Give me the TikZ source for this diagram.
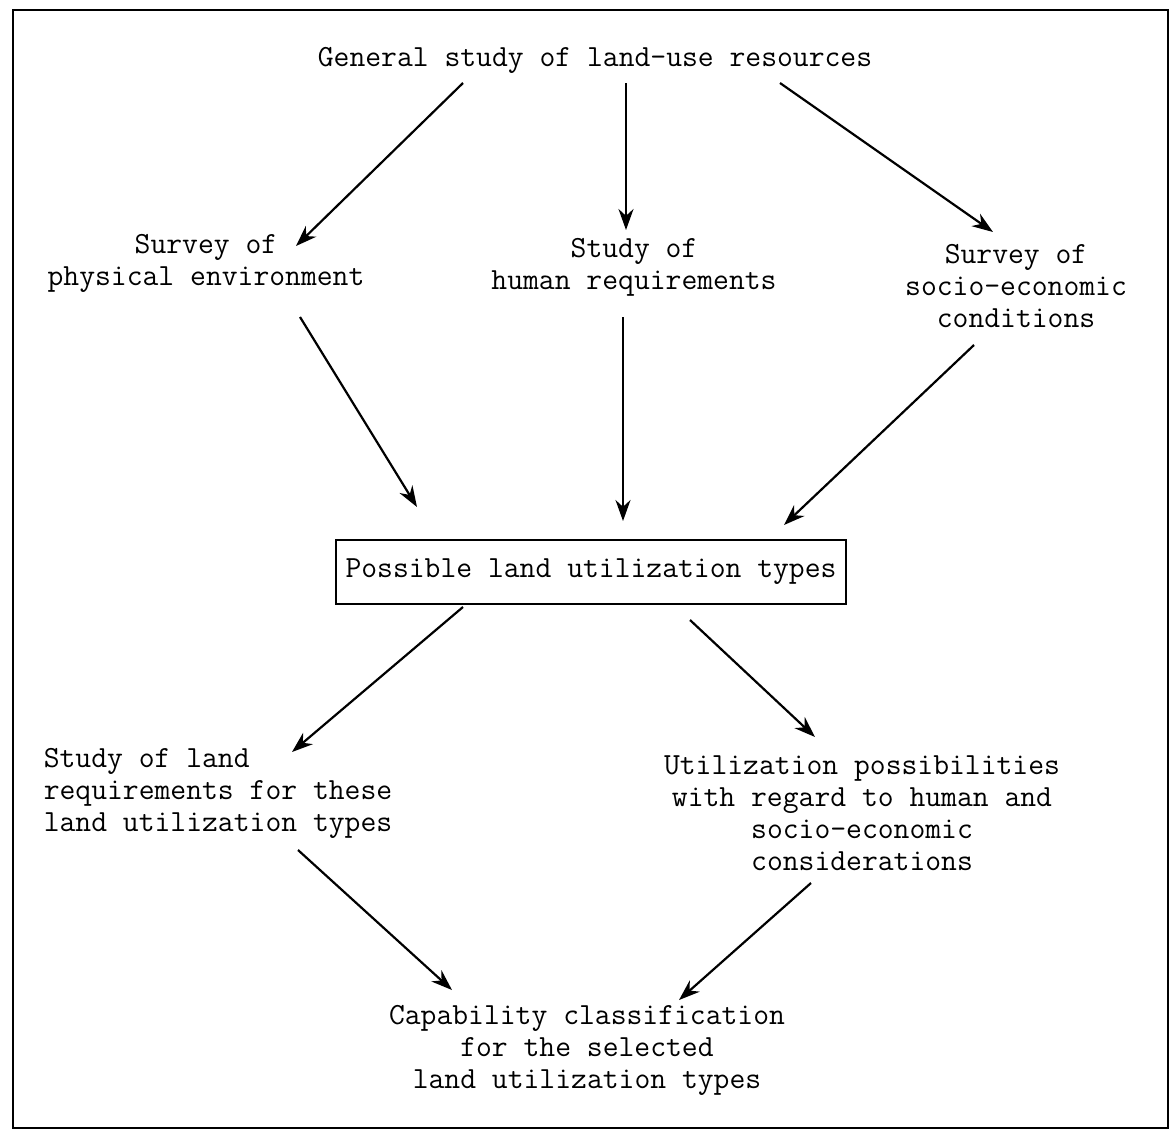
\documentclass[tikz,border=0pt]{standalone}
\usepackage{fontspec}
\usetikzlibrary{arrows.meta,calc}
\tikzset {
	txt/.style={align=center, inner sep=0pt, font=\ttfamily\fontsize{17.5}{18.2}\selectfont},
	txtleft/.style={txt, align=left},
	typebox/.style={txt, draw, line width=1.3pt, minimum width=10.2cm, minimum height=1.28cm},
	arr/.style={-{Stealth[length=0.42cm, width=0.3cm]}, line width=1.25pt},
	frame/.style={line width=1.3pt}
}

\begin{document}
\begin{tikzpicture}[x=0.02cm, y=-0.02cm]
					\useasboundingbox (0,0) rectangle (1170,1133);
					\draw [frame] (13,10) rectangle (1168,1128);
					% nodes
					\node [txt] (general) at (595,60) {General study of land-use resources};
					\node [txt] (physical) at (206,263) {Survey of\\physical environment};
					\node [txt] (human) at (634,267) {Study of\\human requirements};
					\node [txt] (socio) at (1016,286) {Survey of\\socio-economic\\conditions};
					\node [typebox] (types) at (591,572) {Possible land utilization types};
					\node [txtleft] (landreq) at (218,793) {Study of land\\requirements for these\\land utilization types};
					\node [txt] (possib) at (862,813) {Utilization possibilities\\with regard to human and\\socio-economic\\considerations};
					\node [txt] (capab) at (587,1050) {Capability classification\\for the selected\\land utilization types};
					% connectors
					\draw [arr] ($(general)+(-132,23)$) -- ($(physical)+(90,-17)$);
					\draw [arr] ($(general)+(31,23)$) -- ($(human)+(-8,-37)$);
					\draw [arr] ($(general)+(185,23)$) -- ($(socio)+(-23,-54)$);
					\draw [arr] ($(physical)+(94,54)$) -- ($(types)+(-174,-65)$);
					\draw [arr] ($(human)+(-11,50)$) -- ($(types)+(32,-51)$);
					\draw [arr] ($(socio)+(-42,59)$) -- ($(types)+(193,-47)$);
					\draw [arr] ($(types)+(-128,35)$) -- ($(landreq)+(74,-41)$);
					\draw [arr] ($(types)+(99,48)$) -- ($(possib)+(-47,-76)$);
					\draw [arr] ($(landreq)+(80,57)$) -- ($(capab)+(-135,-60)$);
					\draw [arr] ($(possib)+(-51,70)$) -- ($(capab)+(92,-50)$);
\end{tikzpicture}
\end{document}
